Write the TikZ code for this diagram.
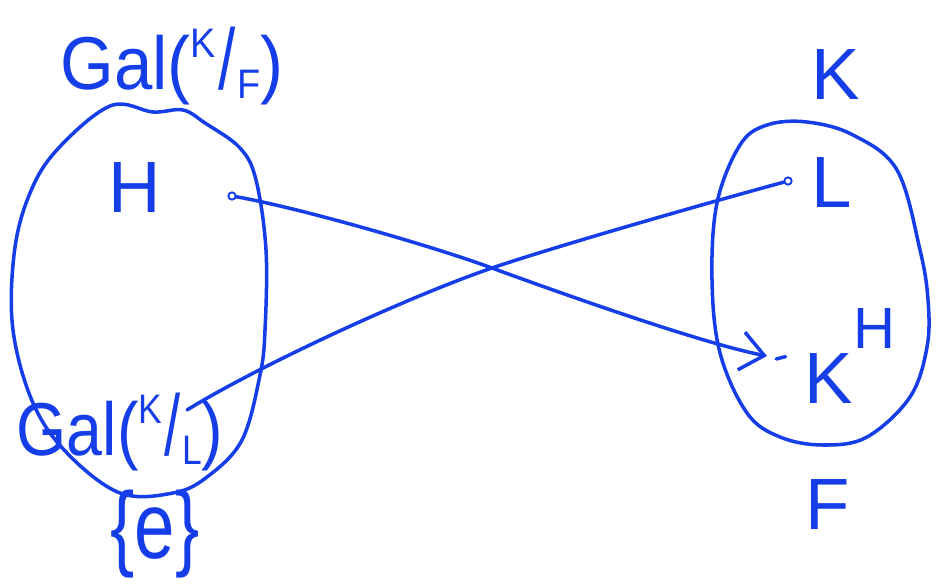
\documentclass[tikz,border=0pt]{standalone}
\usepackage{fontspec}
\setmainfont{Liberation Sans}
\usepackage{graphicx}
\usetikzlibrary{positioning,arrows.meta}

\definecolor{inkblue}{RGB}{22,62,232}
% K over F written as a slanted quotient
\newcommand{\quo}[2]{\raisebox{.42em}{\scalebox{.55}{#1}}\kern.03em\scalebox{.9}[1.15]{/}\kern.03em\raisebox{-.12em}{\scalebox{.55}{#2}}}

\begin{document}
\begin{tikzpicture}[x=0.03cm, y=-0.03cm,
    ink/.style={draw=inkblue, line width=3pt, line cap=round, line join=round},
    lbl/.style={text=inkblue, inner sep=0pt, font=\fontsize{62}{64}\selectfont},
    big/.style={lbl, font=\fontsize{64}{66}\selectfont},
    pt/.style={circle, draw=inkblue, line width=1.6pt, minimum size=0.22cm, inner sep=0pt}]
  \useasboundingbox (0,0) rectangle (937,587);
  % the group and its subgroups
  \draw[ink] plot[smooth cycle, tension=0.6] coordinates {(110,106) (153,112) (183,110) (205,123) (240,148)
    (256,180) (266,250) (265,330) (260,375) (242,440) (207,477) (173,493) (120,493) (67,453) (33,403)
    (13,330) (14,255) (28,198) (55,152)};
  \node[big] (galkf) at (172,66) {\scalebox{.92}[1]{Gal(\quo{K}{F})}};
  \node[lbl] (hlbl) at (135,188) {H};
  \node[pt] (hdot) at (232,196) {};
  \node[big] (galkl) at (120,432) {\scalebox{.86}[1]{Gal(\quo{K}{L})}};
  \node[lbl] (triv) at (155,534) {\scalebox{1}[1.3]{\{e\}}};
  % the intermediate fields
  \draw[ink] plot[smooth cycle, tension=0.6] coordinates {(767,125) (807,122) (853,135) (897,170) (920,250)
    (928,300) (927,347) (910,397) (867,437) (823,445) (780,437) (747,413) (720,353) (712,280) (717,203)
    (740,145)};
  \node[lbl] (ktop) at (836,75) {K};
  \node[pt] (ldot) at (788,181) {};
  \node[lbl] (llbl) at (832,183) {L};
  \node[lbl] (kh) at (850,356) {K\raisebox{.75em}{\scalebox{.8}{H}}};
  \node[lbl] (flbl) at (828,505) {F};
  \coordinate (khdot) at (782,359);
  \coordinate (khtip) at (767,356);
  \coordinate (cross) at (492,268);
  \coordinate (klend) at (187,410);
  \draw[ink] ([xshift=-5pt]khdot) -- ([xshift=3pt,yshift=2pt]khdot);
  % H goes to its fixed field, L goes to its group
  \draw[ink, -{Straight Barb[length=0.7cm, width=1.15cm]}] (hdot) .. controls (300,208) and (432,246) .. (cross)
    .. controls (552,290) and (700,343) .. (khtip);
  \draw[ink] (ldot) .. controls (700,205) and (557,246) .. (cross)
    .. controls (410,296) and (260,365) .. (klend);
\end{tikzpicture}
\end{document}
